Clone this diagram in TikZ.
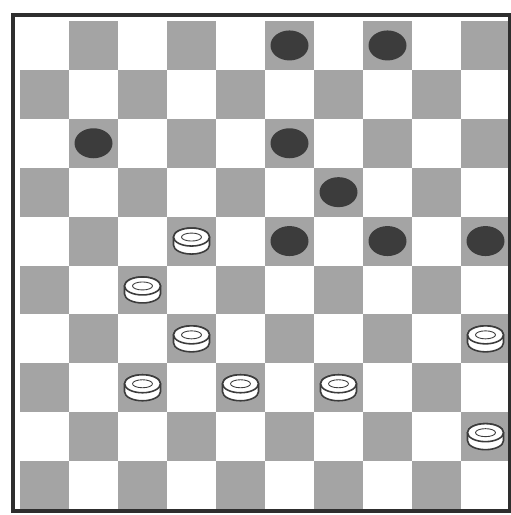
\documentclass[tikz,border=0pt]{standalone}
\usetikzlibrary{calc}
\definecolor{dbdark}{HTML}{A4A4A4}
\definecolor{dbink}{HTML}{3C3C3C}
\definecolor{dbframe}{HTML}{2E2E2E}
\newcommand{\dbblack}[2]{%
  \fill[bman] ({20+49*(#1-0.5)},{21+48.9*(#2-0.5)}) ellipse[x radius=19, y radius=15];}
\newcommand{\dbwhite}[2]{%
  \begin{scope}[shift={({20+49*(#1-0.5)},{21+48.9*(#2-0.5)})}]
    \filldraw[wman] (-18,-4) -- (-18,4) arc[start angle=180, end angle=0, x radius=18, y radius=9]
      -- (18,-4) arc[start angle=0, end angle=-180, x radius=18, y radius=9] -- cycle;
    \draw[wman] (0,-4) ellipse[x radius=18, y radius=9];
    \draw[wman, line width=0.5pt] (0,-4) ellipse[x radius=10, y radius=4];
  \end{scope}}

\begin{document}
\begin{tikzpicture}[
    x=0.02cm, y=-0.02cm,
    % ---- shared styles ---------------------------------------------------
    dsq/.style={fill=dbdark},
    frm/.style={draw=dbframe, line width=1.8pt},
    bman/.style={fill=dbink},
    wman/.style={draw=dbink, fill=white, line width=0.9pt},
  ]
\useasboundingbox (0,0) rectangle (511,515);
\fill[white] (0,0) rectangle (511,515);

% =========================================================================
% BOARD -- 10x10, dark squares stippled grey
% =========================================================================
\foreach \r in {1,...,10}{
  \foreach \c in {1,...,10}{
    \pgfmathtruncatemacro{\odd}{mod(\r+\c,2)}
    \ifnum\odd=1
      \fill[dsq] ({20+49*(\c-1)},{21+48.9*(\r-1)}) rectangle ++(49,48.9);
    \fi}}
\draw[frm] (13,15) rectangle (510,511);

% =========================================================================
% MEN -- black above, white below
% =========================================================================
\foreach \c/\r in {6/1, 8/1, 2/3, 6/3, 7/4, 6/5, 8/5, 10/5}{
  \dbblack{\c}{\r}}
\foreach \c/\r in {4/5, 3/6, 4/7, 10/7, 3/8, 5/8, 7/8, 10/9}{
  \dbwhite{\c}{\r}}

\end{tikzpicture}
\end{document}
